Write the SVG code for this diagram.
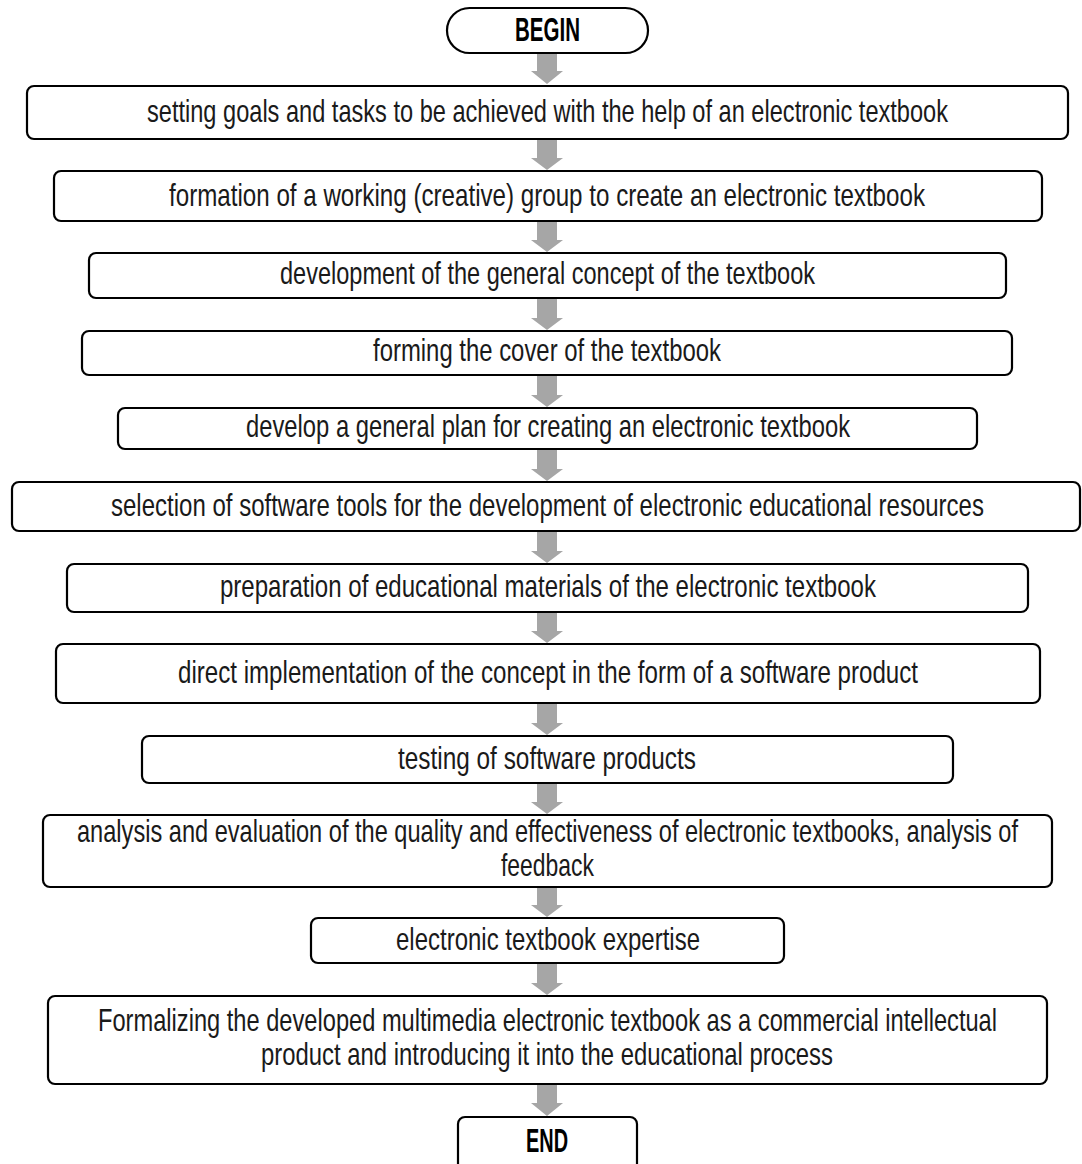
<svg xmlns="http://www.w3.org/2000/svg" width="1082" height="1164" viewBox="0 0 1082 1164">
<style>
.box{fill:#fff;stroke:#000;stroke-width:2.2}
.t{font-family:"Liberation Sans",Arial,sans-serif;font-size:31px;fill:#1a1a1a}
.b{font-family:"Liberation Sans",Arial,sans-serif;font-size:33px;font-weight:bold;fill:#000}
.arr{fill:#a6a6a6}
</style>
<rect width="1082" height="1164" fill="#fff"/>
<g id="connectors">
<path class="arr" d="M537,54 H557 V71 H563 L547,84 L531,71 H537 Z"/>
<path class="arr" d="M537,140 H557 V158 H563 L547,170 L531,158 H537 Z"/>
<path class="arr" d="M537,222 H557 V240 H563 L547,252 L531,240 H537 Z"/>
<path class="arr" d="M537,299 H557 V318 H563 L547,330 L531,318 H537 Z"/>
<path class="arr" d="M537,376 H557 V395 H563 L547,407 L531,395 H537 Z"/>
<path class="arr" d="M537,450 H557 V469 H563 L547,481 L531,469 H537 Z"/>
<path class="arr" d="M537,532 H557 V551 H563 L547,563 L531,551 H537 Z"/>
<path class="arr" d="M537,613 H557 V631 H563 L547,643 L531,631 H537 Z"/>
<path class="arr" d="M537,704 H557 V723 H563 L547,735 L531,723 H537 Z"/>
<path class="arr" d="M537,784 H557 V802 H563 L547,814 L531,802 H537 Z"/>
<path class="arr" d="M537,888 H557 V905 H563 L547,917 L531,905 H537 Z"/>
<path class="arr" d="M537,964 H557 V983 H563 L547,995 L531,983 H537 Z"/>
<path class="arr" d="M537,1085 H557 V1103 H563 L547,1116 L531,1103 H537 Z"/>
</g>
<g id="begin">
<rect class="box" x="447" y="8" width="201" height="45" rx="22.5"/>
<text class="b" transform="matrix(0.8,0,0,1,515,41)" textLength="81.25" lengthAdjust="spacingAndGlyphs">BEGIN</text>
</g>
<g id="n1">
<rect class="box" x="27" y="86" width="1041" height="53" rx="7"/>
<text class="t" transform="matrix(0.7,0,0,1,147,122)" textLength="1144.3" lengthAdjust="spacingAndGlyphs">setting goals and tasks to be achieved with the help of an electronic textbook</text>
</g>
<g id="n2">
<rect class="box" x="54" y="171" width="988" height="50" rx="7"/>
<text class="t" transform="matrix(0.7,0,0,1,169,206)" textLength="1080" lengthAdjust="spacingAndGlyphs">formation of a working (creative) group to create an electronic textbook</text>
</g>
<g id="n3">
<rect class="box" x="89" y="253" width="917" height="45" rx="7"/>
<text class="t" transform="matrix(0.7,0,0,1,280,284)" textLength="764.3" lengthAdjust="spacingAndGlyphs">development of the general concept of the textbook</text>
</g>
<g id="n4">
<rect class="box" x="82" y="331" width="930" height="44" rx="7"/>
<text class="t" transform="matrix(0.7,0,0,1,373,361)" textLength="497.1" lengthAdjust="spacingAndGlyphs">forming the cover of the textbook</text>
</g>
<g id="n5">
<rect class="box" x="118" y="408" width="859" height="41" rx="7"/>
<text class="t" transform="matrix(0.7,0,0,1,246,437)" textLength="862.9" lengthAdjust="spacingAndGlyphs">develop a general plan for creating an electronic textbook</text>
</g>
<g id="n6">
<rect class="box" x="12" y="482" width="1068" height="49" rx="7"/>
<text class="t" transform="matrix(0.7,0,0,1,111,516)" textLength="1247.1" lengthAdjust="spacingAndGlyphs">selection of software tools for the development of electronic educational resources</text>
</g>
<g id="n7">
<rect class="box" x="67" y="564" width="961" height="48" rx="7"/>
<text class="t" transform="matrix(0.7,0,0,1,220,597)" textLength="937.1" lengthAdjust="spacingAndGlyphs">preparation of educational materials of the electronic textbook</text>
</g>
<g id="n8">
<rect class="box" x="56" y="644" width="984" height="59" rx="7"/>
<text class="t" transform="matrix(0.7,0,0,1,178,683)" textLength="1057.1" lengthAdjust="spacingAndGlyphs">direct implementation of the concept in the form of a software product</text>
</g>
<g id="n9">
<rect class="box" x="142" y="736" width="811" height="47" rx="7"/>
<text class="t" transform="matrix(0.7,0,0,1,398,769)" textLength="425.7" lengthAdjust="spacingAndGlyphs">testing of software products</text>
</g>
<g id="n10">
<rect class="box" x="43" y="815" width="1009" height="72" rx="7"/>
<text class="t" transform="matrix(0.7,0,0,1,77,842)" textLength="1344.3" lengthAdjust="spacingAndGlyphs">analysis and evaluation of the quality and effectiveness of electronic textbooks, analysis of</text>
<text class="t" transform="matrix(0.7,0,0,1,501,876)" textLength="132.9" lengthAdjust="spacingAndGlyphs">feedback</text>
</g>
<g id="n11">
<rect class="box" x="311" y="918" width="473" height="45" rx="7"/>
<text class="t" transform="matrix(0.7,0,0,1,396,950)" textLength="434.3" lengthAdjust="spacingAndGlyphs">electronic textbook expertise</text>
</g>
<g id="n12">
<rect class="box" x="48" y="996" width="999" height="88" rx="7"/>
<text class="t" transform="matrix(0.7,0,0,1,98,1031)" textLength="1284.3" lengthAdjust="spacingAndGlyphs">Formalizing the developed multimedia electronic textbook as a commercial intellectual</text>
<text class="t" transform="matrix(0.7,0,0,1,261,1065)" textLength="817.1" lengthAdjust="spacingAndGlyphs">product and introducing it into the educational process</text>
</g>
<g id="end">
<rect class="box" x="458" y="1117" width="179" height="60" rx="7"/>
<text class="b" transform="matrix(0.8,0,0,1,526,1152)" textLength="52.5" lengthAdjust="spacingAndGlyphs">END</text>
</g>
</svg>
